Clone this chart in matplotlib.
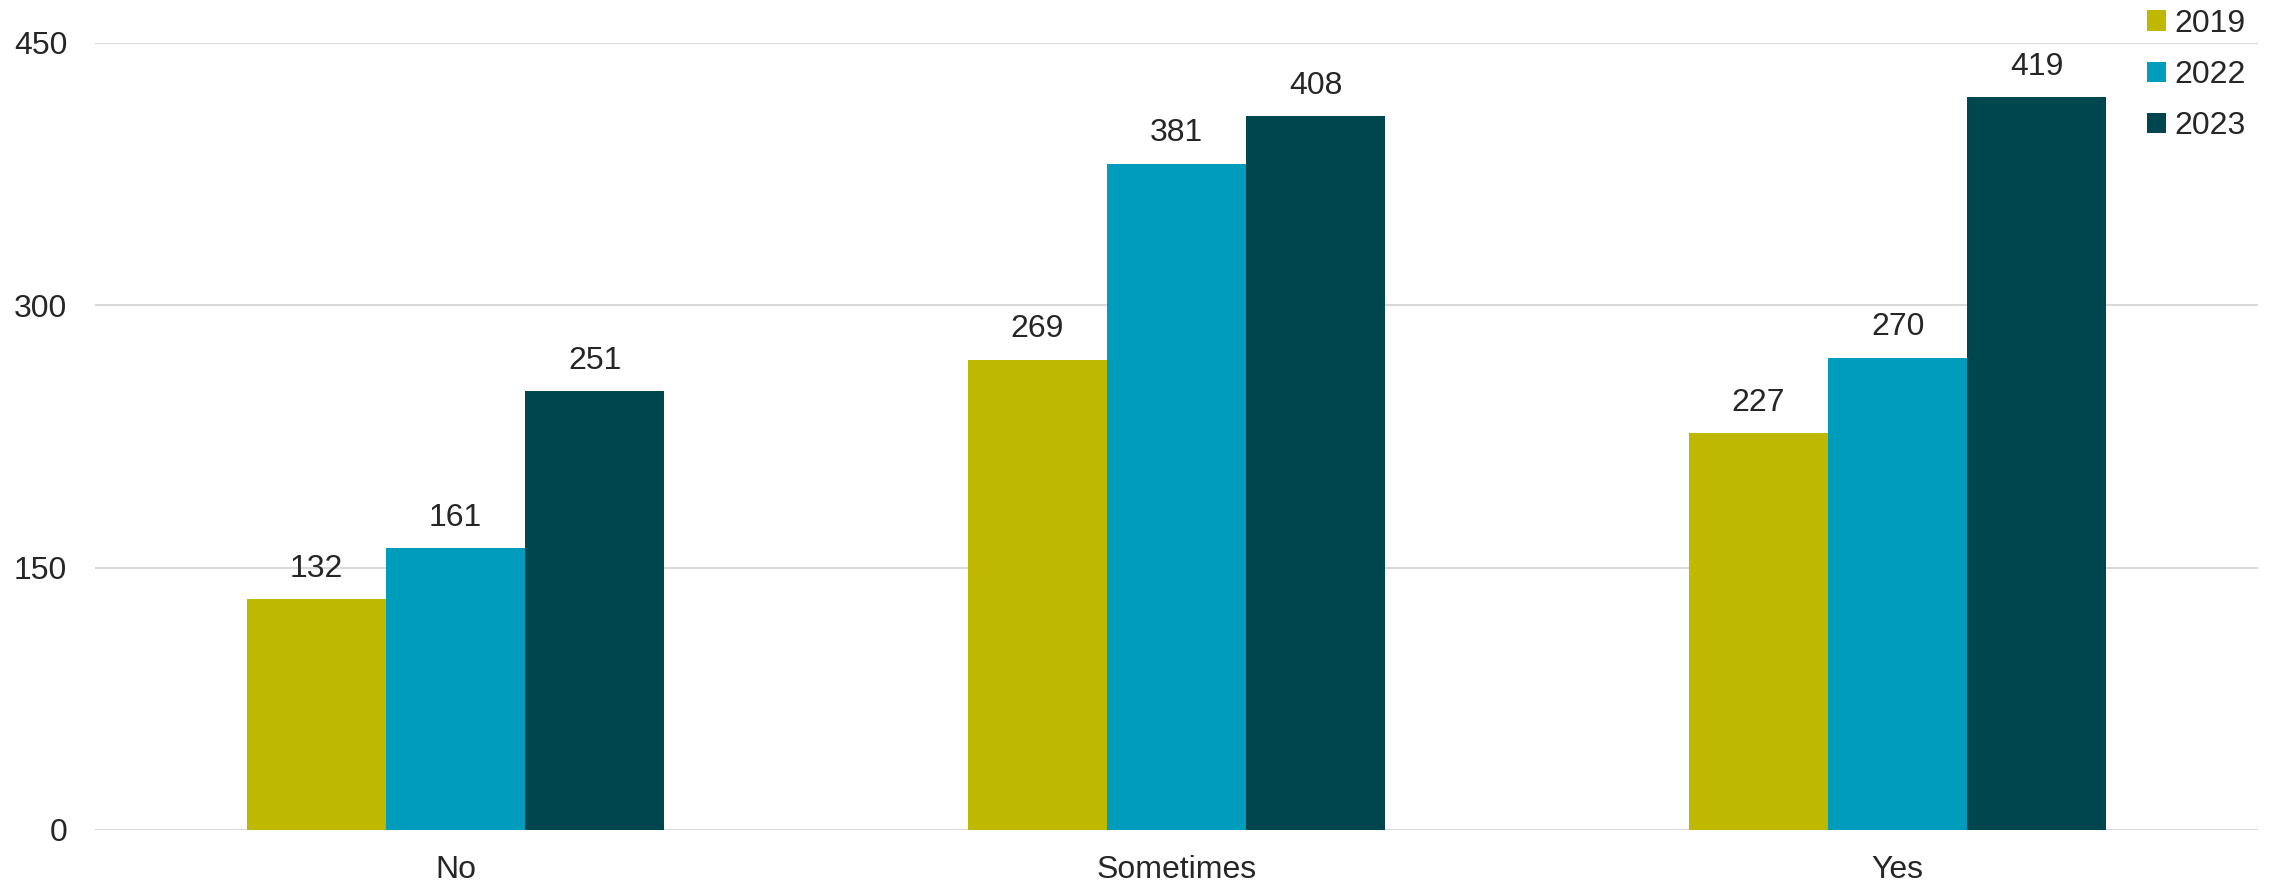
import matplotlib
matplotlib.use("Agg")
import matplotlib.pyplot as plt
import numpy as np

plt.rcParams['font.family'] = ['Liberation Sans', 'DejaVu Sans']

categories = ['No', 'Sometimes', 'Yes']
years = ['2019', '2022', '2023']
values = {
    '2019': [132, 269, 227],
    '2022': [161, 381, 270],
    '2023': [251, 408, 419],
}
colors = ['#BFB800', '#009CBB', '#00464F']
text_color = '#262626'

fig = plt.figure(figsize=(22.74, 8.84), dpi=100)
ax = fig.add_axes([0.0418, 0.0611, 0.9512, 0.8903])

x = np.arange(len(categories))
width = 0.193
for i, (yr, c) in enumerate(zip(years, colors)):
    bars = ax.bar(x + (i - 1) * width, values[yr], width, color=c, label=yr, zorder=3)
    ax.bar_label(bars, padding=11, fontsize=23, color=text_color)

ax.set_xlim(-0.5, 2.5)
ax.set_ylim(0, 450)
ax.set_yticks([0, 150, 300, 450])
ax.set_xticks(x)
ax.set_xticklabels(categories)
ax.tick_params(axis='both', length=0, labelsize=23, labelcolor=text_color)
ax.tick_params(axis='y', pad=20)
ax.tick_params(axis='x', pad=18)
ax.yaxis.grid(True, color='#D9D9D9', linewidth=1.5, zorder=0)
for s in ax.spines.values():
    s.set_visible(False)

fig.legend(loc='upper right', bbox_to_anchor=(1.0, 1.0225), frameon=False,
           fontsize=23, handlelength=0.6, handleheight=0.6, handletextpad=0.25,
           labelspacing=0.66, labelcolor=text_color)

fig.savefig('out.png', dpi=100)
